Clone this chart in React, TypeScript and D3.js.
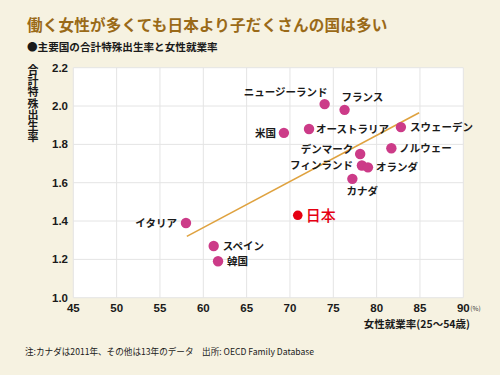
import React from "react";
import * as d3 from "d3";

const countries = ["ニュージーランド", "フランス", "米国", "オーストラリア", "スウェーデン", "ノルウェー", "デンマーク", "フィンランド", "オランダ", "カナダ", "日本", "イタリア", "スペイン", "韓国"];
const employment = [74.0, 76.3, 69.3, 72.2, 82.8, 81.7, 78.1, 78.3, 79.0, 77.2, 70.9, 58.0, 61.2, 61.7];
const fertility = [2.01, 1.98, 1.86, 1.88, 1.89, 1.78, 1.75, 1.69, 1.68, 1.62, 1.43, 1.39, 1.27, 1.19];

const trendX = [58.1, 84.9];
const trendY = [1.32, 1.965];

const xTicks = [45, 50, 55, 60, 65, 70, 75, 80, 85, 90];
const yTicks = [1.0, 1.2, 1.4, 1.6, 1.8, 2.0, 2.2];

const title = "働く女性が多くても日本より子だくさんの国は多い";
const subtitle = "●主要国の合計特殊出生率と女性就業率";
const yTitle = "合計特殊出生率";
const xTitle = "女性就業率(25～54歳)";
const note = "注:カナダは2011年、その他は13年のデータ　出所: OECD Family Database";

// label placement: [dx, dy, anchor]
const labelPlace: Record<string, [number, number, string]> = {
  "ニュージーランド": [3, -12, "end"],
  "フランス": [-3, -13, "start"],
  "米国": [-8, 0, "end"],
  "オーストラリア": [7, 0, "start"],
  "スウェーデン": [9, 0, "start"],
  "ノルウェー": [8, 0, "start"],
  "デンマーク": [-7, -4.5, "end"],
  "フィンランド": [-9, 0, "end"],
  "オランダ": [8, 0, "start"],
  "カナダ": [10, 12, "middle"],
  "日本": [8, 0, "start"],
  "イタリア": [-9, 0, "end"],
  "スペイン": [9, 0, "start"],
  "韓国": [9, 0, "start"],
};

const FONT = "'Noto Sans CJK JP', 'Noto Sans', sans-serif";
const NUMFONT = "'Liberation Sans', Arial, sans-serif";

export default function App() {
  const x = d3.scaleLinear().domain([45, 90]).range([73.3, 463.3]);
  const y = d3.scaleLinear().domain([1.0, 2.2]).range([297.7, 67.7]);
  const line = d3.line<number>().x((_, i) => x(trendX[i])).y((_, i) => y(trendY[i]));

  return (
    <svg width={500} height={375} style={{ position: "absolute", left: 0, top: 0 }} fontFamily={FONT}>
      <rect width={500} height={375} fill="#f6f2e1" />
      <text x={27} y={31} fontSize={15.6} fontWeight={700} fill="#9a6a18" letterSpacing={0.15}>{title}</text>
      <text x={27} y={51} fontSize={10.6} fontWeight={700} fill="#1a1a1a">{subtitle}</text>
      <text x={33} y={64} fontSize={11} fontWeight={700} fill="#1a1a1a" style={{ writingMode: "vertical-rl" }} letterSpacing={0.3}>{yTitle}</text>
      <rect x={x(45)} y={y(2.2)} width={x(90) - x(45)} height={y(1.0) - y(2.2)} fill="#ffffff" />
      {xTicks.map((t) => (
        <line key={"gx" + t} x1={x(t)} x2={x(t)} y1={y(2.2)} y2={y(1.0)} stroke="#e4e4e4" strokeWidth={1} />
      ))}
      {yTicks.map((t) => (
        <line key={"gy" + t} x1={x(45)} x2={x(90)} y1={y(t)} y2={y(t)} stroke="#e4e4e4" strokeWidth={1} />
      ))}
      {yTicks.map((t) => (
        <text key={"ty" + t} x={68} y={y(t) + 4} fontFamily={NUMFONT} fontSize={11.5} fontWeight={700} textAnchor="end" fill="#1a1a1a">{t.toFixed(1)}</text>
      ))}
      {xTicks.map((t) => (
        <text key={"tx" + t} x={x(t)} y={312} fontFamily={NUMFONT} fontSize={11.5} fontWeight={700} textAnchor="middle" fill="#1a1a1a">{t}</text>
      ))}
      <text x={x(90) + 7} y={311} fontSize={6.5} fill="#333">(%)</text>
      <text x={470} y={328} fontSize={10.5} fontWeight={700} textAnchor="end" fill="#1a1a1a">{xTitle}</text>
      <path d={line([0, 1]) || ""} stroke="#dfa23f" strokeWidth={1.6} fill="none" />
      {countries.map((c, i) => {
        const isJ = c === "日本";
        const cx = x(employment[i]);
        const cy = y(fertility[i]);
        const [dx, dy, anchor] = labelPlace[c];
        return (
          <g key={c}>
            <circle cx={cx} cy={cy} r={isJ ? 4.8 : 5.2} fill={isJ ? "#e50012" : "#cc3b88"} />
            <text x={cx + dx} y={cy + dy + (isJ ? 5.5 : 4)} fontSize={isJ ? 15 : 10.5} fontWeight={isJ ? 500 : 700} textAnchor={anchor} fill={isJ ? "#e50012" : "#1a1a1a"}>{c}</text>
          </g>
        );
      })}
      <text x={25} y={355} fontSize={8.6} fill="#1a1a1a">{note}</text>
    </svg>
  );
}
